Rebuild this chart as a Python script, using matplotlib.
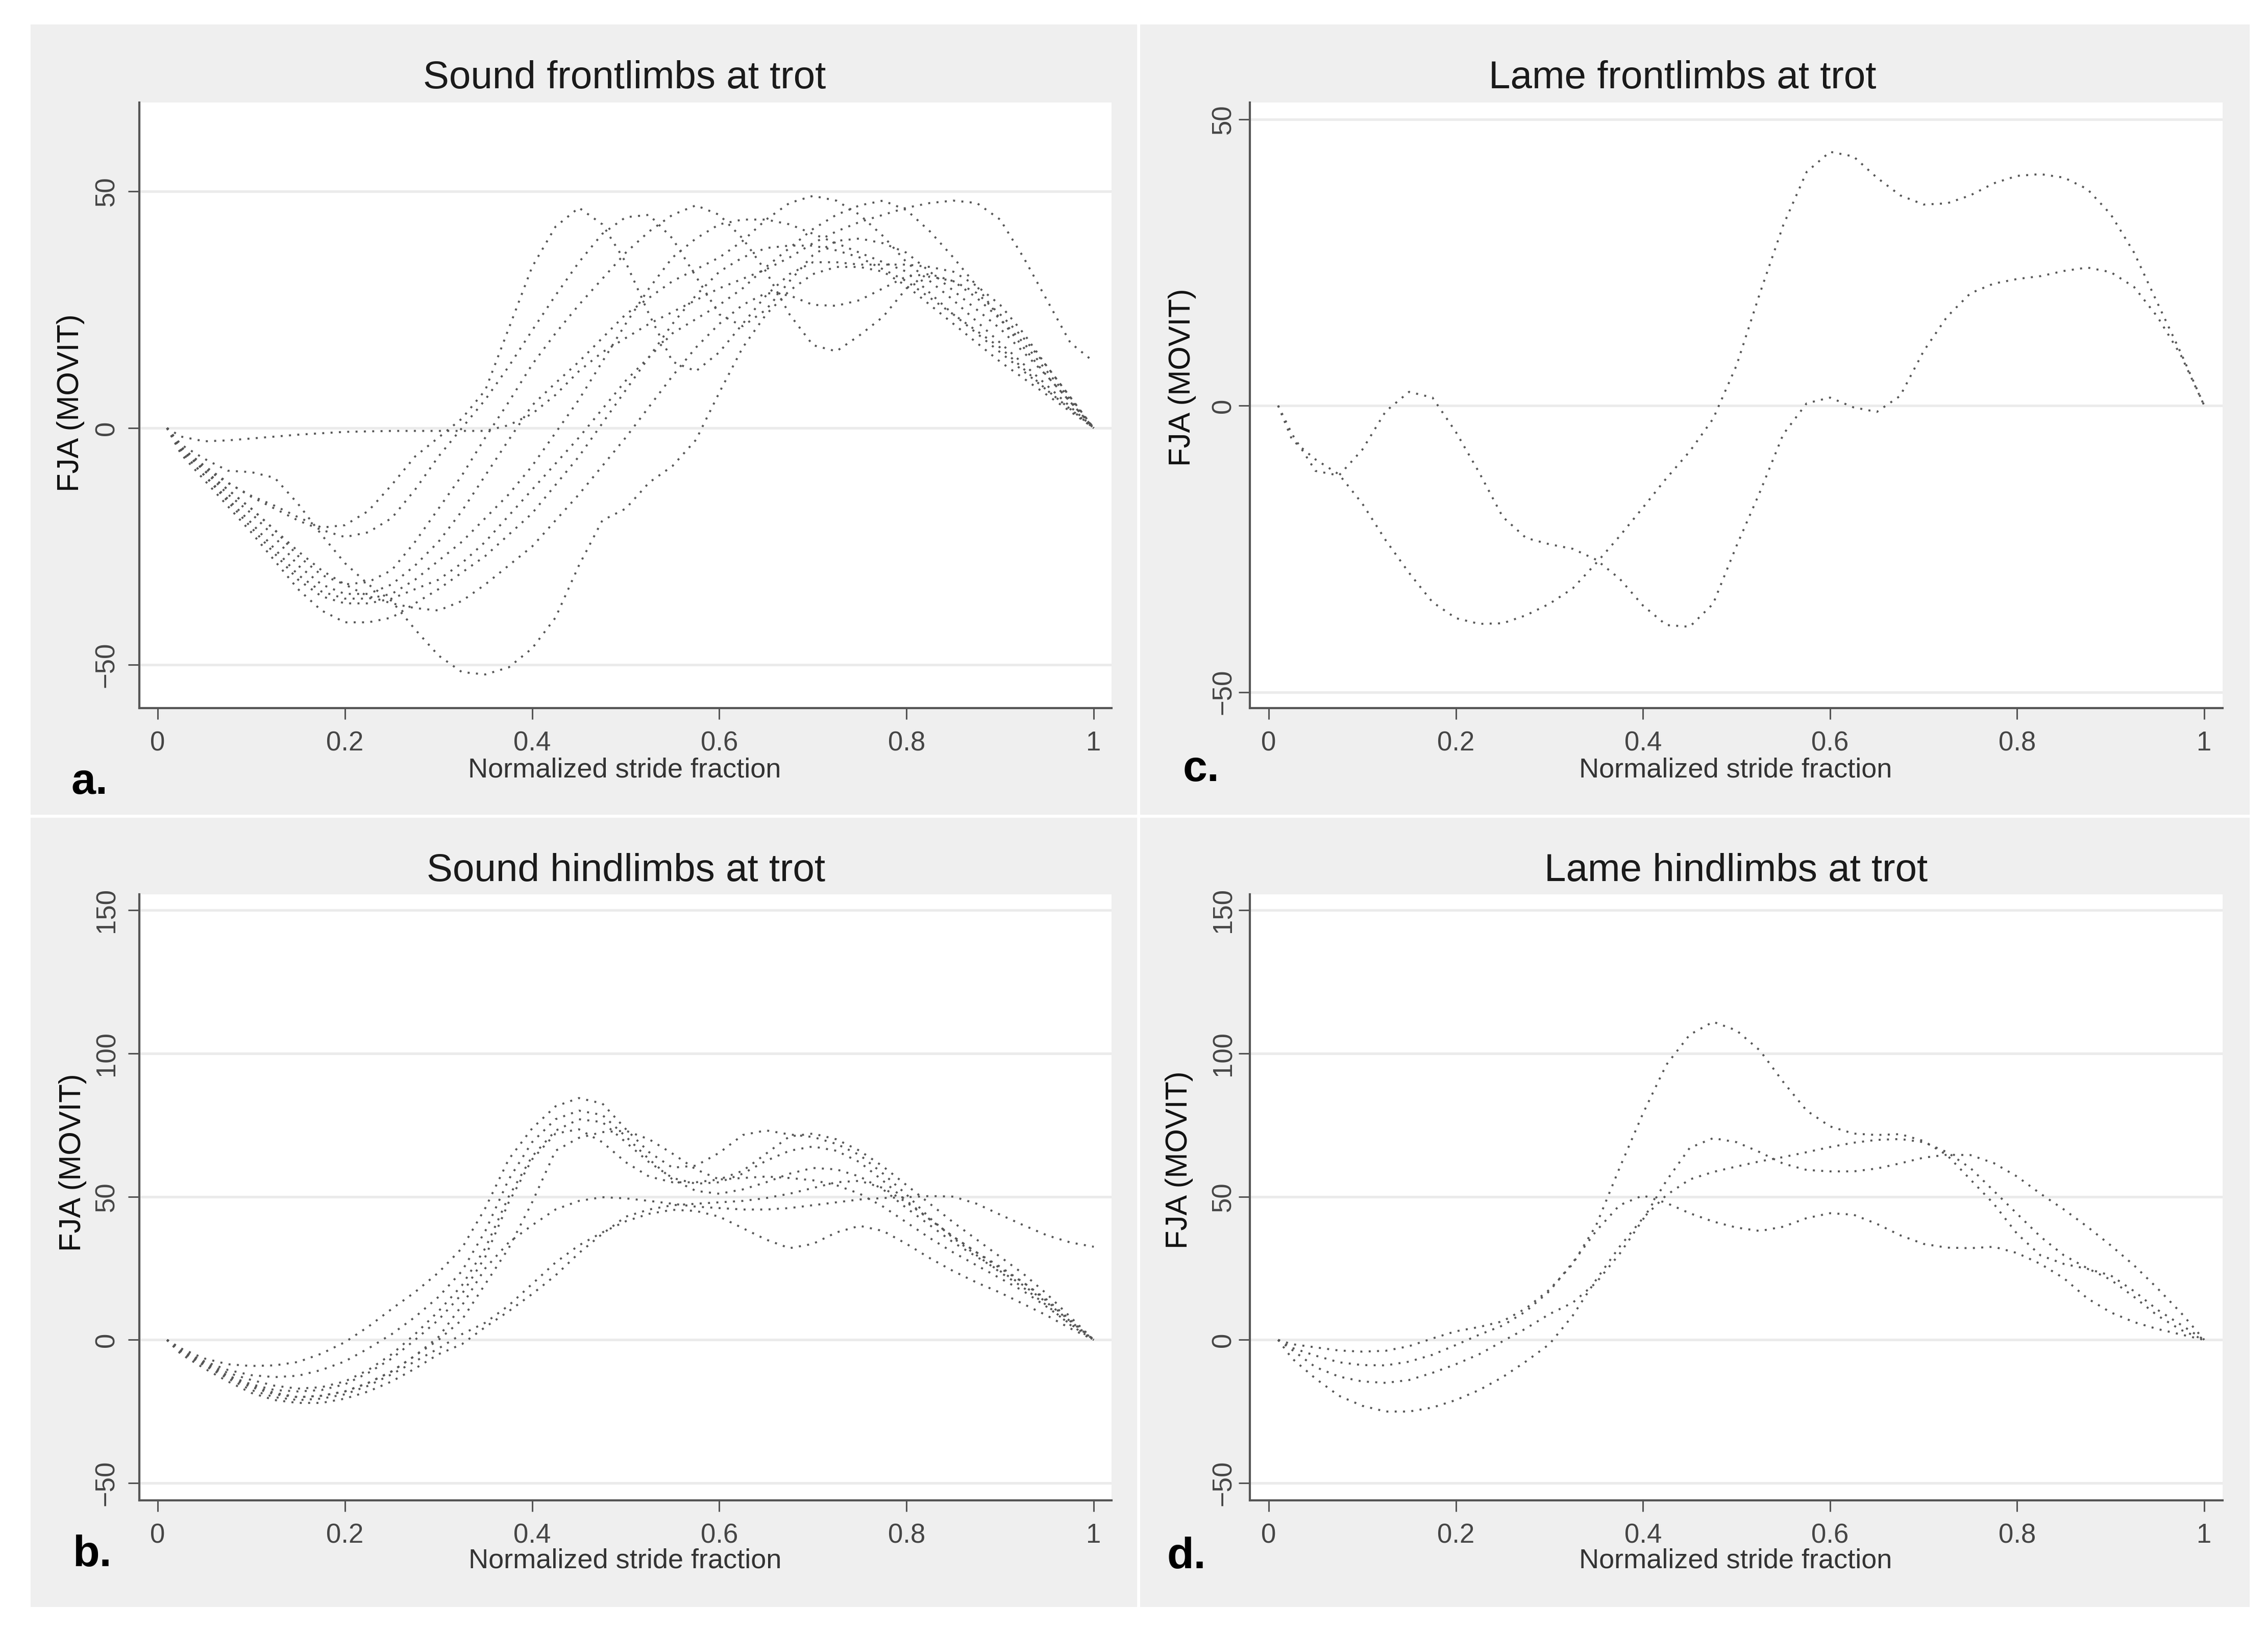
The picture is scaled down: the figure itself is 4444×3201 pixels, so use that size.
import matplotlib.pyplot as plt
from matplotlib.patches import Rectangle

W, H, DPI = 4444, 3201, 100

plt.rcParams['font.family'] = ['Liberation Sans', 'DejaVu Sans']

# sample positions along the stride (same for every curve)
x_stride = [0.01, 0.025, 0.05, 0.075, 0.1, 0.125, 0.15, 0.175, 0.2, 0.225,
            0.25, 0.275, 0.3, 0.325, 0.35, 0.375, 0.4, 0.425, 0.45, 0.475,
            0.5, 0.525, 0.55, 0.575, 0.6, 0.625, 0.65, 0.675, 0.7, 0.725,
            0.75, 0.775, 0.8, 0.825, 0.85, 0.875, 0.9, 0.925, 0.95, 0.975, 1.0]

# a. sound frontlimbs (one list per stride)
sound_front = [
    [0, -4, -8.5, -11.6, -14.3, -16.4, -18.8, -21, -20.5, -17.5, -12, -6, -2, 2, 8, 21, 34,
     42.5, 46.5, 43, 35, 24, 14, 12, 16, 22, 28, 32.5, 35, 35, 34.5, 34.5, 34.5, 34, 33,
     30, 26, 20, 13, 6.5, 0],
    [0, -4, -8, -11.5, -14.5, -17, -19.5, -21.5, -23, -22, -19, -13, -6, 0, 6, 13, 20.6, 28,
     35, 41, 44.5, 45, 40, 32, 24, 21.5, 25, 31, 36.5, 39.5, 40, 39, 37, 33, 29, 25, 21,
     16, 11, 5.5, 0],
    [0, -4.5, -9, -13, -17, -21.5, -27, -31, -33, -32.5, -30, -24, -17, -10, -2, 5.5, 13.4,
     20, 26, 31.5, 37, 41.5, 45, 47, 45, 40, 33, 24, 17.5, 16.2, 19.6, 23.5, 29.5, 32, 31,
     28.5, 24, 19, 13, 6.5, 0],
    [0, -4.5, -9, -14, -18, -23, -29, -33, -35, -35, -33, -29, -24, -17.5, -10, -2.5, 4.8,
     9.5, 14, 19, 24, 27.5, 31, 33.5, 36, 39.5, 44, 47.5, 49, 48, 45, 40.5, 35, 31, 27,
     22.5, 18, 13.5, 9, 4.5, 0],
    [0, -1.8, -2.8, -2.6, -2.2, -1.8, -1.4, -1.1, -0.8, -0.7, -0.6, -0.6, -0.6, -0.6, -0.6,
     0.6, 3, 7, 12, 16, 19, 22, 24.5, 27, 29.5, 31.5, 33.5, 36, 39, 41.5, 43.5, 45, 46.5,
     47.5, 48, 47.5, 44, 36, 27, 18, 14],
    [0, -5, -10, -15, -20, -25.5, -31, -34.5, -36, -36, -35, -32, -28, -24, -19, -14, -8,
     -1, 6, 14, 22, 29.5, 36, 40, 43, 44, 44, 43, 41, 39, 37, 35, 33, 28.5, 24, 20, 16,
     12, 8, 4, 0],
    [0, -5, -10, -15.5, -21, -26.5, -32, -35.5, -37, -37, -36, -34, -32, -28.5, -24, -18.5,
     -13, -7.5, -2, 4, 10, 15, 20, 23, 26, 29.5, 34, 38, 42, 45, 47, 48, 46, 41.5, 36, 30,
     23, 17, 11, 5.5, 0],
    [0, -5.5, -11, -16.5, -22, -28, -34, -38.5, -41, -41, -40, -37, -34, -30.5, -27, -22.5,
     -18, -12, -6, 1, 8, 15, 22, 28, 33, 36, 38, 38.5, 38.5, 37.5, 36, 33.5, 31, 27.5, 24,
     20.5, 17, 12.5, 8, 4, 0],
    [0, -4.5, -9, -13, -17, -21.5, -26, -30, -33, -35.5, -37, -38, -38.5, -36.5, -33, -29,
     -25, -19.5, -14, -8, -2, 4.5, 11, 17, 22, 26, 28.5, 28, 26, 25.8, 27, 29.5, 32, 32.5,
     31, 27.5, 23, 18, 12, 6, 0],
    [0, -3.5, -6.5, -9, -9.3, -10.5, -16, -22.5, -28.5, -33, -36.5, -42.5, -48, -51.5, -52,
     -50.5, -46.5, -40, -29, -19.5, -17, -11.5, -8, -2.5, 7.5, 17, 24, 29, 32.5, 34, 34,
     33, 30, 26, 22, 18, 14, 10.5, 7, 3.5, 0],
]

# b. sound hindlimbs
sound_hind = [
    [0, -3, -6.5, -8.5, -9.1, -8.9, -7.7, -4.8, -0.8, 4.6, 10.8, 16.7, 23.5, 32, 46, 63,
     73.8, 81.5, 84.4, 82.5, 73.6, 65.5, 60.1, 60.8, 65.3, 71.5, 73.1, 71.7, 70.8, 68.4,
     64.5, 58, 50.7, 42.5, 35.5, 29.5, 23.6, 18.2, 12, 5.2, 0],
    [0, -3.5, -7.5, -10.5, -12.3, -13, -12.5, -10.5, -7.5, -3, 2, 8, 15, 24, 38, 56, 69, 77,
     80, 78.5, 71, 63, 56, 52, 51, 52.5, 55, 58, 60, 59.5, 57, 52.5, 46, 40, 34, 29, 24,
     19, 13, 6.5, 0],
    [0, -4, -8, -11.5, -14, -16, -17, -16.5, -14.5, -10.5, -5, 2, 10, 19, 32, 50, 64, 73,
     77, 76, 69, 62, 56.5, 54.5, 55, 58, 62.5, 66, 67.5, 66, 62, 55.5, 48.5, 42, 36, 30.5,
     25, 20, 13.5, 6.5, 0],
    [0, -4, -8.5, -12.5, -15.5, -17.5, -18, -17.5, -15.5, -11.5, -6.5, 0, 7, 16, 29, 48,
     63, 72, 73.5, 69, 62, 57, 55, 55, 56, 56.5, 57, 56.5, 55.7, 54, 51, 46.5, 41, 35.5,
     30.5, 26, 21.5, 17, 11.5, 5.5, 0],
    [0, -4, -8.5, -13, -16.5, -19, -20, -19.5, -18, -15, -11, -5.5, 0, 7, 19.5, 32, 48, 66,
     70.5, 72.5, 73, 70, 65, 59.5, 56, 59, 65, 71, 72, 70, 66, 60.5, 54, 47.5, 41, 35, 29,
     23, 16, 8, 0],
    [0, -4, -8, -12.5, -16, -18.5, -20, -19.5, -18, -15, -11, -5.5, 1, 12, 25, 34, 40,
     45.5, 48.5, 49.8, 49.4, 48.5, 47.5, 46.5, 46, 45.5, 45.5, 46, 47, 48, 49, 49.5, 49.8,
     50.2, 50, 47.5, 43.7, 40, 36.5, 34, 32.5],
    [0, -4.5, -9, -13.5, -17.5, -20, -21, -20.5, -19, -16, -12, -7.5, -3, 2, 6, 12, 19.5,
     27, 33, 37.5, 41.4, 44, 45.4, 45, 43, 39, 35, 32, 33.5, 37.5, 39.8, 38, 33.5, 28.5,
     24, 20, 16.5, 12.5, 8.5, 4, 0],
    [0, -5, -10, -14.5, -18.5, -21, -22, -22, -20.5, -18, -14.5, -10, -5, -1.5, 4.5, 10,
     16, 22.5, 30.3, 37, 43, 45.5, 47, 47.5, 48, 48.5, 49.5, 51, 53, 55, 55.5, 53, 48, 42,
     36, 30.5, 25.5, 20, 14, 7, 0],
]

# c. lame frontlimbs
lame_front = [
    [0, -5.0, -11.4, -12.2, -7.7, -1.0, 2.4, 1.4, -4.6, -11.7, -19.4, -23.1, -24.2, -25.0,
     -26.9, -30.2, -34.9, -38.3, -38.6, -34.6, -24.5, -15.1, -5.0, 0.4, 1.4, -0.3, -1.1,
     1.7, 9.5, 15.5, 19.6, 21.3, 22.1, 22.6, 23.5, 24.1, 23.3, 20.7, 15.5, 8.8, 0],
    [0, -6.0, -9.4, -12.0, -17.1, -23.5, -29.2, -34.3, -37.1, -38.1, -38.0, -36.6, -34.6,
     -31.9, -27.5, -22.8, -17.8, -12.7, -8.0, -2.3, 7.0, 19.6, 31.5, 40.8, 44.3, 43.5,
     39.8, 36.7, 35.1, 35.3, 36.7, 38.8, 40.1, 40.4, 39.8, 37.8, 33.4, 26.7, 17.9, 9.2, 0],
]

# d. lame hindlimbs
lame_hind = [
    [0, -1.5, -2.6, -3.7, -4.1, -3.8, -2.2, 0.5, 3.0, 4.5, 6.5, 11, 17.5, 26.5, 40, 60, 79,
     96, 106.5, 111, 108, 101, 90, 80, 74.5, 72, 71.5, 71.8, 69.4, 64.5, 56, 47.5, 37,
     29.5, 26.5, 24.8, 22.5, 17, 10.5, 5.3, 0],
    [0, -3.5, -9.5, -12.8, -14.5, -15, -14, -11.5, -8.5, -5, -0.5, 4, 9, 13, 20, 30, 42,
     55.5, 67, 70.4, 69, 65.5, 61.5, 59.3, 58.8, 58.8, 59.8, 61.6, 63.6, 64.6, 64.5, 61.7,
     57, 51, 45.5, 39.5, 33, 26, 18, 9.5, 0],
    [0, -6.5, -13.5, -19.5, -23, -25, -25, -23.6, -21, -17.5, -13, -7.5, -1.5, 8.5, 21,
     32.5, 42.5, 50.5, 56, 58.6, 60.5, 62.3, 63.8, 65.5, 67.3, 68.8, 69.8, 70.1, 69, 65.5,
     60, 52, 44, 36, 29.5, 25, 21, 15, 8.5, 3.5, 0],
    [0, -2.8, -5.5, -7.8, -8.8, -8.9, -7.6, -5.2, -1.8, 1.8, 5, 10, 17, 27, 38, 47, 50.4,
     47.8, 44.2, 41.3, 39.2, 38, 39.5, 42.5, 44.2, 43.7, 40.5, 36.5, 33.5, 32.2, 32, 32.5,
     30.3, 26.5, 21.5, 14.5, 9.6, 6.2, 3.8, 1.9, 0],
]

x_ticks = [0, 0.2, 0.4, 0.6, 0.8, 1]
x_tick_labels = ['0', '0.2', '0.4', '0.6', '0.8', '1']
front_ticks = [-50, 0, 50]
hind_ticks = [-50, 0, 50, 100, 150]

titles = ['Sound frontlimbs at trot', 'Lame frontlimbs at trot',
          'Sound hindlimbs at trot', 'Lame hindlimbs at trot']
letters = ['a.', 'c.', 'b.', 'd.']
xlabel = 'Normalized stride fraction'
ylabel = 'FJA (MOVIT)'

DOT_COLOR = '#555555'
AXIS_COLOR = '#555555'


def fx(px):
    return px / W


def fy(py):
    return 1 - py / H


fig = plt.figure(figsize=(W / DPI, H / DPI), dpi=DPI, facecolor='white')

# grey panel backgrounds
for x0, y0, x1, y1 in [(60, 48, 2228, 1597), (2234, 48, 4408, 1597),
                       (60, 1603, 2228, 3150), (2234, 1603, 4408, 3150)]:
    fig.add_artist(Rectangle((fx(x0), fy(y1)), (x1 - x0) / W, (y1 - y0) / H,
                             transform=fig.transFigure, facecolor='#efefef',
                             edgecolor='none', zorder=-5))


def panel(box, curves, xlim, ylim, yticks, ypad, title, title_xy, letter, letter_xy,
          xlabel_xy, ylabel_xy):
    x0, y0, x1, y1 = box
    ax = fig.add_axes([fx(x0), fy(y1), (x1 - x0) / W, (y1 - y0) / H])
    ax.set_facecolor('white')
    for ys in curves:
        ax.plot(x_stride, ys, color=DOT_COLOR, linewidth=2.8, linestyle=(0, (1, 3.2)))
    ax.set_xlim(*xlim)
    ax.set_ylim(*ylim)
    for s in ['top', 'right']:
        ax.spines[s].set_visible(False)
    for s in ['left', 'bottom']:
        ax.spines[s].set_color(AXIS_COLOR)
        ax.spines[s].set_linewidth(3)
    ax.set_xticks(x_ticks)
    ax.set_xticklabels(x_tick_labels)
    ax.set_yticks(yticks)
    ax.set_yticklabels([str(t).replace('-', '\u2212') for t in yticks],
                       rotation=90, va='center')
    ax.tick_params(axis='both', direction='out', length=16, width=2.2,
                   color=AXIS_COLOR, labelsize=38, labelcolor='#454545')
    ax.tick_params(axis='x', pad=16)
    ax.tick_params(axis='y', pad=ypad)
    ax.grid(axis='y', color='#ebebeb', linewidth=3.6)
    ax.set_axisbelow(True)

    fig.text(fx(title_xy[0]), fy(title_xy[1]), title, fontsize=55, color='#1a1a1a',
             ha='center', va='center')
    fig.text(fx(xlabel_xy[0]), fy(xlabel_xy[1]), xlabel, fontsize=39, color='#333333',
             ha='center', va='center')
    fig.text(fx(ylabel_xy[0]), fy(ylabel_xy[1]), ylabel, fontsize=43, color='#111111',
             ha='center', va='center', rotation=90)
    fig.text(fx(letter_xy[0]), fy(letter_xy[1]), letter, fontsize=62, color='black',
             fontweight='bold', ha='left', va='baseline')
    return ax


panel((273, 201, 2178, 1388), sound_front, (-0.0196, 1.019), (-59.1, 68.7),
      front_ticks, 12, titles[0], (1224, 153), letters[0], (140, 1556), (1224, 1510),
      (138, 790))
panel((2449, 201, 4355, 1388), lame_front, (-0.0202, 1.0196), (-52.8, 52.9),
      front_ticks, 3, titles[1], (3297, 153), letters[1], (2318, 1531), (3401, 1510),
      (2317, 740))
panel((273, 1753, 2178, 2941), sound_hind, (-0.0196, 1.019), (-56, 155.5),
      hind_ticks, 12, titles[2], (1226, 1707), letters[2], (142, 3070), (1225, 3060),
      (143, 2279))
panel((2449, 1753, 4355, 2941), lame_hind, (-0.0202, 1.0196), (-56, 155.5),
      hind_ticks, 3, titles[3], (3402, 1707), letters[3], (2286, 3074), (3401, 3060),
      (2310, 2274))

fig.savefig('out.png', dpi=DPI, facecolor='white')
